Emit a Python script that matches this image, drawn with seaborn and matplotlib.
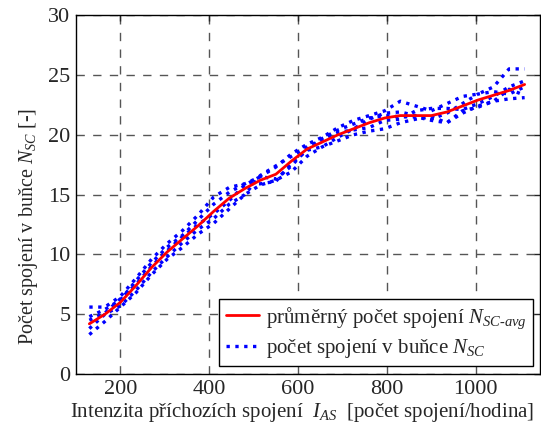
import numpy as np
import pandas as pd
import matplotlib
matplotlib.use("Agg")
import matplotlib.pyplot as plt
import seaborn as sns
from matplotlib.lines import Line2D

# ---- data ----
intensity = [130, 165, 200, 235, 270, 305, 340, 375, 410, 445, 480, 515, 550, 585, 620,
             655, 690, 725, 760, 795, 830, 865, 900, 935, 970, 1005, 1040, 1075, 1110]

avg_calls = [4.2, 5.0, 6.0, 7.4, 8.9, 10.2, 11.3, 12.4, 13.6, 14.7, 15.5, 16.2, 16.7, 17.8, 18.8,
             19.4, 20.0, 20.5, 21.0, 21.4, 21.6, 21.6, 21.6, 21.9, 22.4, 22.9, 23.3, 23.7, 24.2]

run_1 = [5.6, 5.6, 6.5, 8.0, 9.6, 10.9, 12.0, 13.3, 14.8, 15.6, 15.9, 16.5, 17.3, 18.4, 19.2,
         19.8, 20.6, 21.2, 21.6, 22.0, 22.8, 22.4, 22.0, 22.6, 23.2, 23.4, 24.0, 25.5, 25.5]
run_2 = [3.3, 4.4, 5.6, 6.8, 8.3, 9.6, 10.6, 11.7, 12.6, 13.8, 15.0, 15.8, 16.2, 16.9, 18.2,
         19.0, 19.5, 20.0, 20.3, 20.5, 21.0, 21.3, 21.5, 21.0, 21.8, 22.4, 22.8, 23.0, 23.1]
run_3 = [4.8, 5.4, 6.2, 7.8, 9.3, 10.6, 11.6, 12.9, 14.2, 15.2, 15.9, 15.9, 16.1, 17.6, 18.7,
         19.0, 19.8, 20.5, 21.3, 21.8, 21.9, 21.6, 21.3, 21.8, 22.6, 23.4, 23.6, 23.4, 24.0]
run_4 = [3.8, 5.0, 5.7, 7.0, 8.5, 9.8, 11.0, 12.1, 13.0, 14.2, 15.0, 16.6, 17.4, 18.2, 19.0,
         19.6, 20.2, 20.4, 20.6, 21.2, 21.3, 22.0, 22.2, 22.2, 22.1, 22.6, 23.2, 24.0, 24.5]
run_5 = [4.5, 5.1, 6.3, 7.5, 9.0, 10.3, 11.5, 12.5, 13.4, 14.5, 15.8, 16.5, 16.3, 17.4, 18.8,
         19.7, 20.4, 20.9, 21.4, 21.6, 21.5, 21.5, 21.2, 21.0, 22.0, 22.3, 22.8, 23.8, 23.3]

runs = [run_1, run_2, run_3, run_4, run_5]

x_ticks = [200, 400, 600, 800, 1000]
y_ticks = [0, 5, 10, 15, 20, 25, 30]

# ---- style ----
sns.set_style("white")
plt.rcParams["font.family"] = ["Liberation Serif", "DejaVu Serif"]
plt.rcParams["mathtext.fontset"] = "custom"
plt.rcParams["mathtext.rm"] = "Liberation Serif"
plt.rcParams["mathtext.it"] = "Liberation Serif:italic"

long_df = pd.concat(
    [pd.DataFrame({"x": intensity, "y": r, "run": i}) for i, r in enumerate(runs)],
    ignore_index=True,
)

fig = plt.figure(figsize=(5.41, 4.30), dpi=100)
ax = fig.add_axes([0.1405, 0.130, 0.858, 0.835])

for i in range(len(runs)):
    sns.lineplot(data=long_df[long_df["run"] == i], x="x", y="y", ax=ax,
                 color="blue", linestyle=":", linewidth=2.4, zorder=3)

sns.lineplot(x=intensity, y=avg_calls, ax=ax, color="red", linewidth=2, zorder=4)

ax.set_xlim(100, 1145)
ax.set_ylim(0, 30)
ax.set_xticks(x_ticks)
ax.set_yticks(y_ticks)
ax.tick_params(direction="in", length=4, labelsize=16, top=True, right=True, width=1, pad=4)

ax.grid(True, linestyle=(0, (6, 6)), color="#555555", linewidth=1)
for s in ax.spines.values():
    s.set_color("black")
    s.set_linewidth(1)

ax.set_xlabel("Intenzita příchozích spojení  $I_{AS}$  [počet spojení/hodina]", fontsize=15, labelpad=1)
ax.xaxis.set_label_coords(0.487, -0.075)
ax.set_ylabel("Počet spojení v buňce $N_{SC}$ [-]", fontsize=14.5, labelpad=4)
ax.yaxis.set_label_coords(-0.078, 0.41)

handles = [Line2D([], [], color="red", linewidth=2),
           Line2D([], [], color="blue", linestyle=":", linewidth=2.4)]
labels = ["průměrný počet spojení $N_{SC\\text{-}avg}$",
          "počet spojení v buňce $N_{SC}$"]
leg = ax.legend(handles, labels, loc="lower right", fontsize=15, frameon=True,
                fancybox=False, edgecolor="black", framealpha=1,
                handlelength=1.6, handletextpad=0.35, borderpad=0.3,
                labelspacing=0.3, borderaxespad=0, bbox_to_anchor=(0.985, 0.022))
leg.get_frame().set_linewidth(1)

fig.savefig("out.png", dpi=100)
